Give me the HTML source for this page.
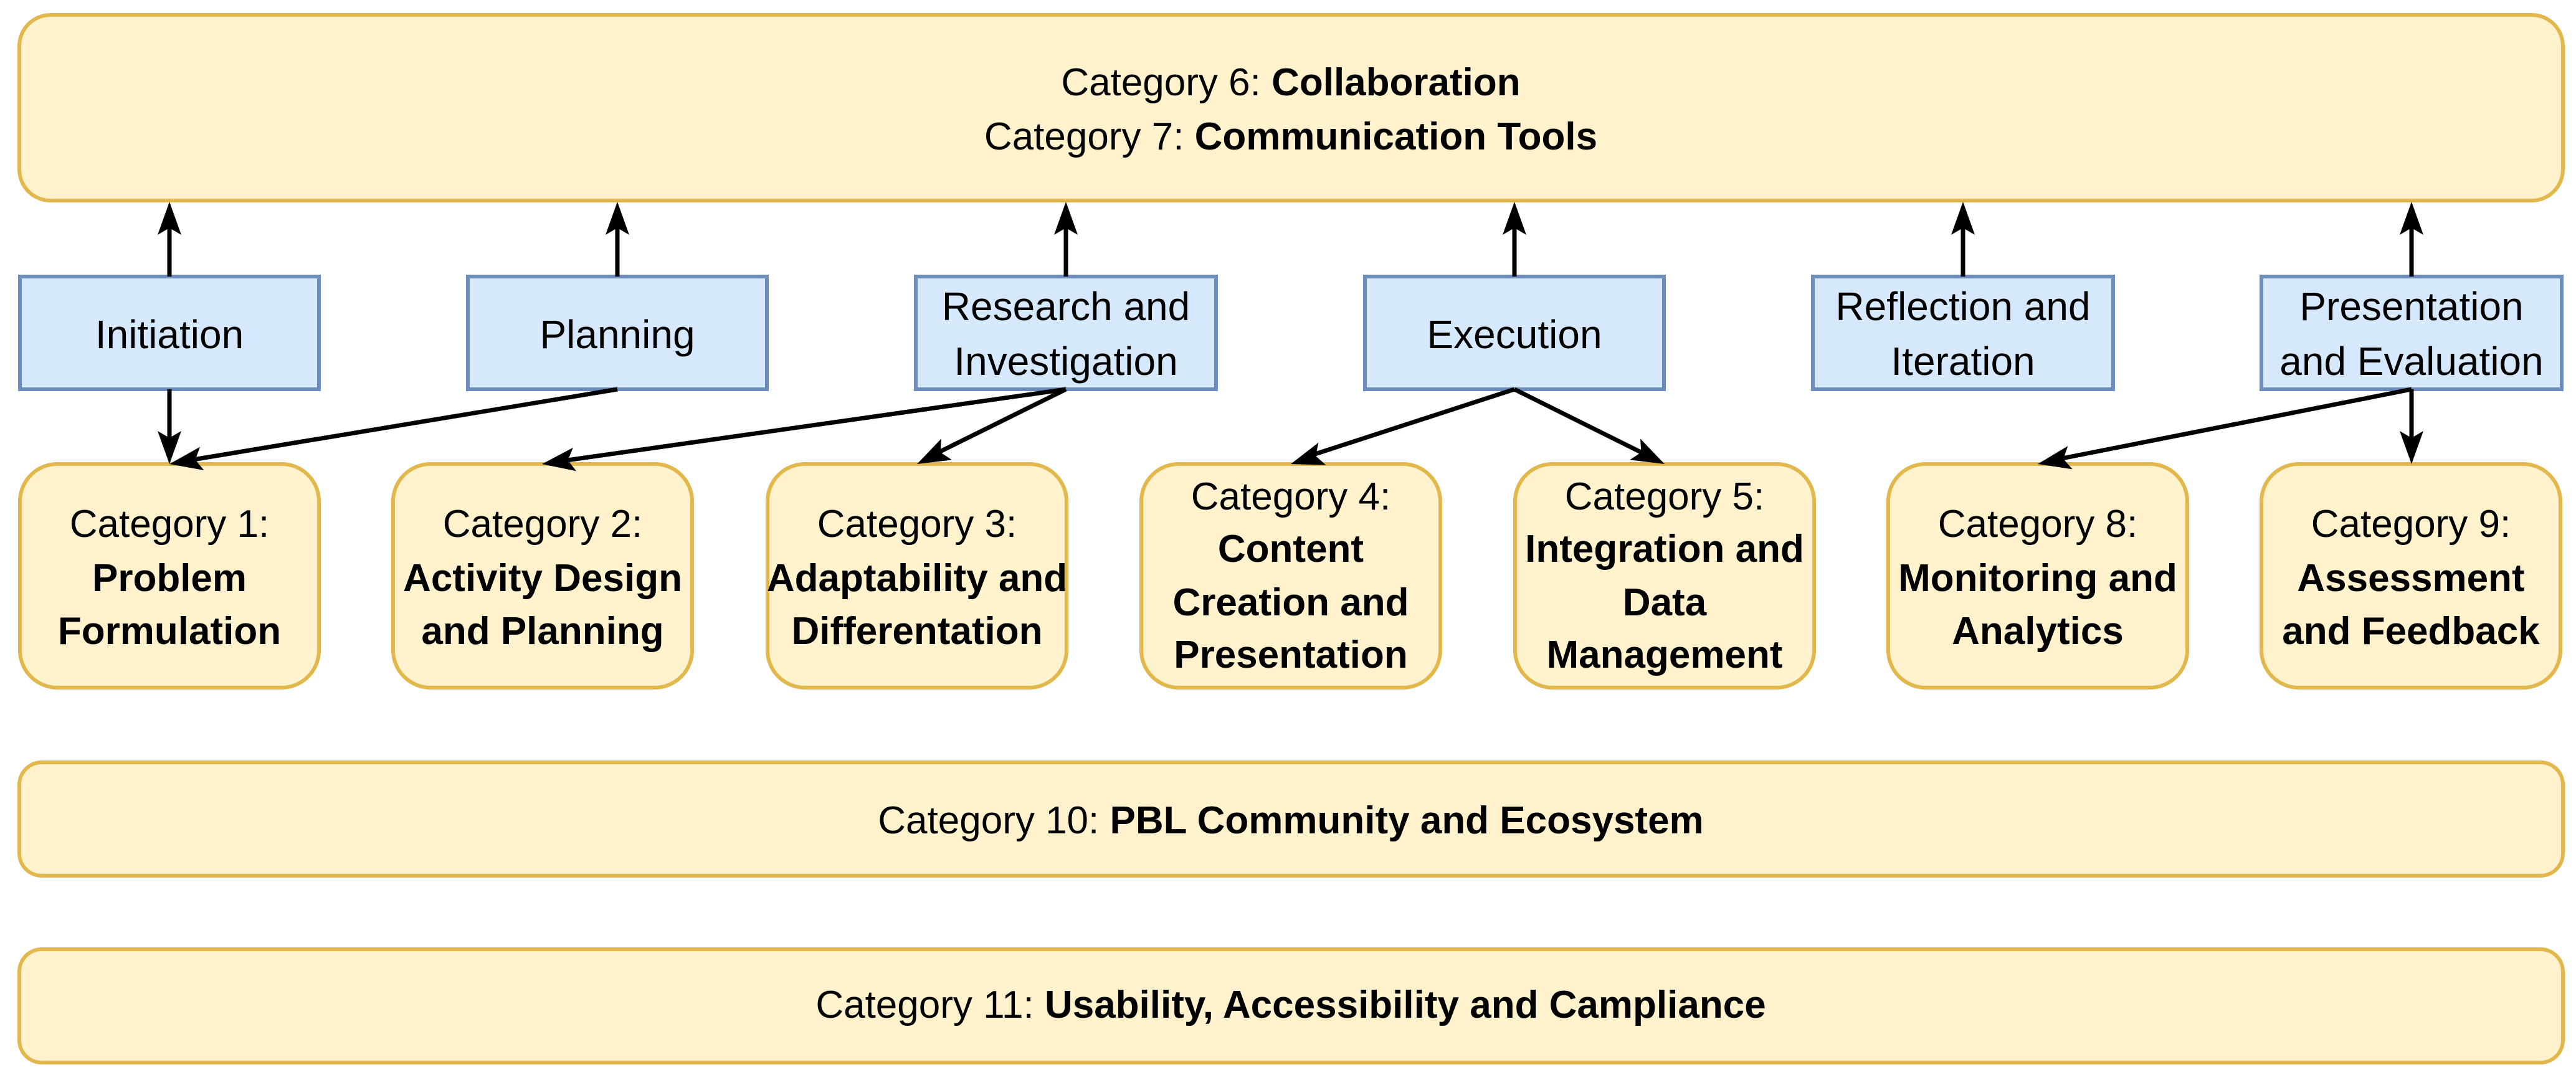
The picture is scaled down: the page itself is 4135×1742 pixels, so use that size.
<!DOCTYPE html>
<html><head><meta charset="utf-8"><style>
html,body{margin:0;padding:0;background:#fff;}
svg{display:block;}
text{font-family:"Liberation Sans","Arial",sans-serif;font-size:62px;fill:#000;}
.b{font-weight:bold;}
.bl{font-size:64px;}
</style></head><body>
<svg width="4135" height="1742" viewBox="0 0 4135 1742" xmlns="http://www.w3.org/2000/svg">
<g fill="#fff2cc" stroke="#e2b84c" stroke-width="6">
<rect x="31" y="24" width="4083" height="298" rx="50"/>
<rect x="31" y="1224" width="4083" height="182" rx="36"/>
<rect x="31" y="1524" width="4083" height="182" rx="36"/>
<rect x="32" y="745" width="480" height="359" rx="60"/>
<rect x="631" y="745" width="480" height="359" rx="60"/>
<rect x="1232" y="745" width="480" height="359" rx="60"/>
<rect x="1832" y="745" width="480" height="359" rx="60"/>
<rect x="2432" y="745" width="480" height="359" rx="60"/>
<rect x="3031" y="745" width="480" height="359" rx="60"/>
<rect x="3630" y="745" width="480" height="359" rx="60"/>
</g>
<g fill="#d5e8fc" stroke="#6c8ebf" stroke-width="6">
<rect x="32" y="444" width="480" height="181"/>
<rect x="751" y="444" width="480" height="181"/>
<rect x="1470" y="444" width="482" height="181"/>
<rect x="2191" y="444" width="480" height="181"/>
<rect x="2910" y="444" width="482" height="181"/>
<rect x="3630" y="444" width="482" height="181"/>
</g>
<g stroke="#000" stroke-width="7" fill="none">
<line x1="272" y1="444" x2="272" y2="360"/>
<line x1="991" y1="444" x2="991" y2="360"/>
<line x1="1711" y1="444" x2="1711" y2="360"/>
<line x1="2431" y1="444" x2="2431" y2="360"/>
<line x1="3151" y1="444" x2="3151" y2="360"/>
<line x1="3871" y1="444" x2="3871" y2="360"/>
<line x1="272" y1="625" x2="272" y2="710"/>
<line x1="991" y1="625" x2="310" y2="738"/>
<line x1="1711" y1="625" x2="910" y2="739"/>
<line x1="1711" y1="625" x2="1505" y2="727"/>
<line x1="2431" y1="625" x2="2108" y2="730"/>
<line x1="2431" y1="625" x2="2636" y2="727"/>
<line x1="3871" y1="625" x2="3310" y2="736"/>
<line x1="3871" y1="625" x2="3871" y2="710"/>
</g>
<g fill="#000">
<polygon points="272,324 253,377 272,366 291,377"/>
<polygon points="991,324 972,377 991,366 1010,377"/>
<polygon points="1711,324 1692,377 1711,366 1730,377"/>
<polygon points="2431,324 2412,377 2431,366 2450,377"/>
<polygon points="3151,324 3132,377 3151,366 3170,377"/>
<polygon points="3871,324 3852,377 3871,366 3890,377"/>
<polygon points="272,745 253,692 272,703 291,692"/>
<polygon points="3871,745 3852,692 3871,703 3890,692"/>
<g transform="translate(272,745) rotate(-9.5)"><polygon points="0,0 53,-19 42,0 53,19"/></g>
<g transform="translate(870,745) rotate(-8.1)"><polygon points="0,0 53,-19 42,0 53,19"/></g>
<g transform="translate(1472,745) rotate(-26.5)"><polygon points="0,0 53,-19 42,0 53,19"/></g>
<g transform="translate(2072,745) rotate(-18.1)"><polygon points="0,0 53,-19 42,0 53,19"/></g>
<g transform="translate(2672,745) rotate(206.5)"><polygon points="0,0 53,-19 42,0 53,19"/></g>
<g transform="translate(3271,745) rotate(-11.2)"><polygon points="0,0 53,-19 42,0 53,19"/></g>
</g>
<g text-anchor="middle">
<text x="2072" y="153">Category 6: <tspan class="b">Collaboration</tspan></text>
<text x="2072" y="240">Category 7: <tspan class="b">Communication Tools</tspan></text>
<text x="2072" y="1338">Category 10: <tspan class="b">PBL Community and Ecosystem</tspan></text>
<text x="2072" y="1634">Category 11: <tspan class="b">Usability, Accessibility and Campliance</tspan></text>

<text class="bl" x="272" y="559">Initiation</text>
<text class="bl" x="991" y="559">Planning</text>
<text class="bl" x="1711" y="514">Research and</text><text class="bl" x="1711" y="602">Investigation</text>
<text class="bl" x="2431" y="559">Execution</text>
<text class="bl" x="3151" y="514">Reflection and</text><text class="bl" x="3151" y="602">Iteration</text>
<text class="bl" x="3871" y="514">Presentation</text><text class="bl" x="3871" y="602">and Evaluation</text>

<text x="272" y="862">Category 1:</text><text class="b" x="272" y="949">Problem</text><text class="b" x="272" y="1034">Formulation</text>
<text x="871" y="862">Category 2:</text><text class="b" x="871" y="949">Activity Design</text><text class="b" x="871" y="1034">and Planning</text>
<text x="1472" y="862">Category 3:</text><text class="b" x="1472" y="949">Adaptability and</text><text class="b" x="1472" y="1034">Differentation</text>
<text x="2072" y="818">Category 4:</text><text class="b" x="2072" y="902">Content</text><text class="b" x="2072" y="988">Creation and</text><text class="b" x="2072" y="1072">Presentation</text>
<text x="2672" y="818">Category 5:</text><text class="b" x="2672" y="902">Integration and</text><text class="b" x="2672" y="988">Data</text><text class="b" x="2672" y="1072">Management</text>
<text x="3271" y="862">Category 8:</text><text class="b" x="3271" y="949">Monitoring and</text><text class="b" x="3271" y="1034">Analytics</text>
<text x="3870" y="862">Category 9:</text><text class="b" x="3870" y="949">Assessment</text><text class="b" x="3870" y="1034">and Feedback</text>
</g>
</svg>
</body></html>
